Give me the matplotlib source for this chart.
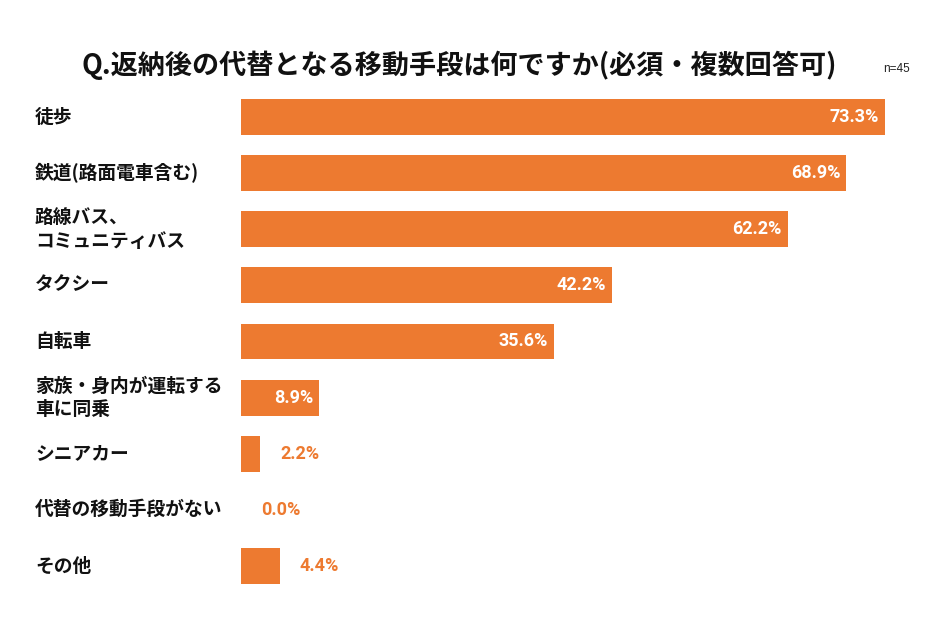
import matplotlib.pyplot as plt

plt.rcParams['font.family'] = ['Noto Sans CJK JP', 'DejaVu Sans']

labels = ['徒歩', '鉄道(路面電車含む)', '路線バス、\nコミュニティバス', 'タクシー', '自転車',
          '家族・身内が運転する\n車に同乗', 'シニアカー', '代替の移動手段がない', 'その他']
values = [73.3, 68.9, 62.2, 42.2, 35.6, 8.9, 2.2, 0.0, 4.4]

orange = '#ED7A30'

fig = plt.figure(figsize=(9.34, 6.23), dpi=100)
ax = fig.add_axes([241/934, 1-594/623, (900-241)/934, (594-89)/623])

ypos = list(range(len(values)))
ax.barh(ypos, values, height=0.64, color=orange)
ax.set_xlim(0, 75)
ax.set_ylim(len(values)-0.5, -0.5)
ax.axis('off')

# category labels, left aligned near the figure edge
for y, lab in zip(ypos, labels):
    ax.annotate(lab, xy=(0, y), xycoords=('axes fraction', 'data'),
                xytext=(-206, 0), textcoords='offset pixels',
                ha='left', va='center', fontsize=13.5, fontweight='bold',
                linespacing=1.3, color='#111111')

for y, v in zip(ypos, values):
    if v > 5:
        ax.annotate(f'{v:.1f}%', xy=(v, y), xytext=(-6, 0), textcoords='offset pixels',
                    ha='right', va='center', color='white', fontsize=13,
                    fontweight='bold', family=['Roboto', 'DejaVu Sans'])
    else:
        ax.annotate(f'{v:.1f}%', xy=(v, y), xytext=(20, 0), textcoords='offset pixels',
                    ha='left', va='center', color=orange, fontsize=13,
                    fontweight='bold', family=['Roboto', 'DejaVu Sans'])

fig.text(459/934, 1-65/623, 'Q.返納後の代替となる移動手段は何ですか(必須・複数回答可)',
         ha='center', va='center', fontsize=19.5, fontweight='bold', color='#111111')
fig.text(897/934, 1-69/623, 'n=45', ha='center', va='center', fontsize=8.5,
         family=['Liberation Sans', 'DejaVu Sans'], color='#222222')

fig.savefig('out.png', dpi=100, facecolor='white')
